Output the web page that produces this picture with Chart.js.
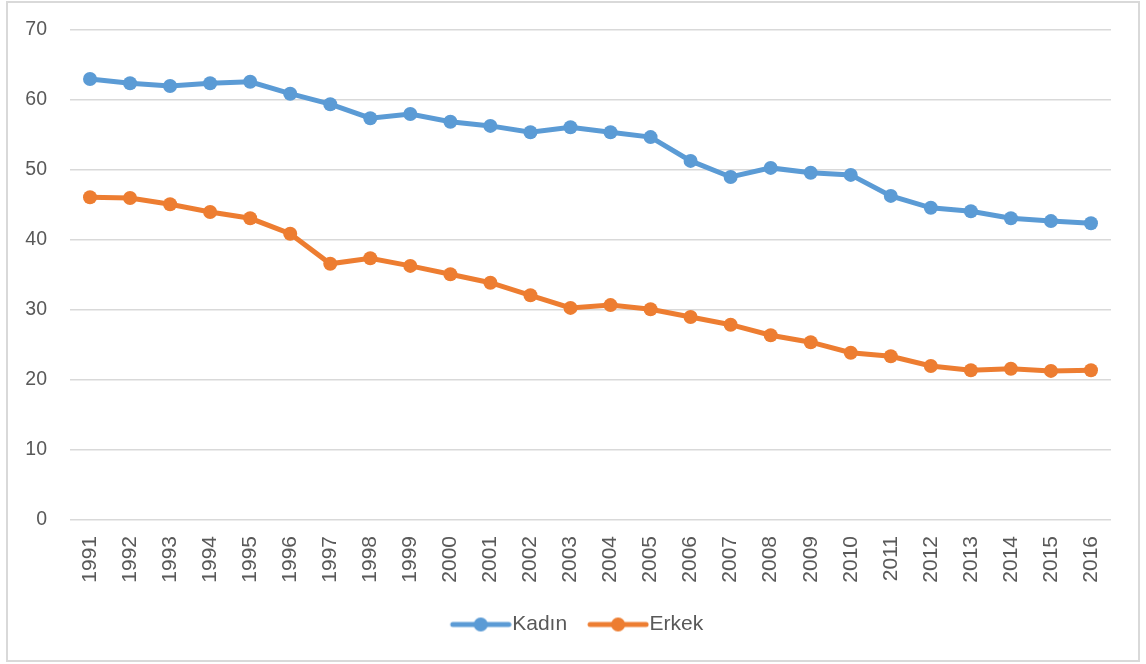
<!DOCTYPE html>
<html>
<head>
<meta charset="utf-8">
<script src="https://cdn.jsdelivr.net/npm/chart.js@4.4.1/dist/chart.umd.min.js"></script>
<style>
  html, body { margin: 0; padding: 0; background: #fff; }
  #box {
    position: absolute; left: 6px; top: 1px;
    width: 1130px; height: 657px;
    border: 2px solid #d9d9d9;
  }
</style>
</head>
<body>
<div id="box"><canvas id="chart" width="1130" height="657"></canvas></div>
<script>
const years = ["1991","1992","1993","1994","1995","1996","1997","1998","1999","2000",
  "2001","2002","2003","2004","2005","2006","2007","2008","2009","2010",
  "2011","2012","2013","2014","2015","2016"];
const kadin = [63.0, 62.4, 62.0, 62.4, 62.6, 60.9, 59.4, 57.4, 58.0, 56.9,
  56.3, 55.4, 56.1, 55.4, 54.7, 51.3, 49.0, 50.3, 49.6, 49.3,
  46.3, 44.6, 44.1, 43.1, 42.7, 42.4];
const erkek = [46.1, 46.0, 45.1, 44.0, 43.1, 40.9, 36.6, 37.4, 36.3, 35.1,
  33.9, 32.1, 30.3, 30.7, 30.1, 29.0, 27.9, 26.4, 25.4, 23.9,
  23.4, 22.0, 21.4, 21.6, 21.3, 21.4];
const yTicks = [0, 10, 20, 30, 40, 50, 60, 70];

const blue = "#5b9bd5";
const orange = "#ed7d31";
const font = "'Liberation Sans', Arial, sans-serif";

// small line+marker picture for the legend (line sits on the right so the text is close)
function legendIcon(color) {
  const c = document.createElement("canvas");
  c.width = 72; c.height = 16;
  const g = c.getContext("2d");
  g.strokeStyle = color; g.lineWidth = 5; g.lineCap = "round";
  g.beginPath(); g.moveTo(13, 8); g.lineTo(69, 8); g.stroke();
  g.fillStyle = color;
  g.beginPath(); g.arc(41, 8, 7, 0, Math.PI * 2); g.fill();
  return c;
}

// legend in the original is centred on the whole frame, not on the space right of the y axis
const shiftLegend = {
  id: "shiftLegend",
  afterLayout(chart) {
    chart.legend.left += 17;
    chart.legend.right += 17;
  },
};

new Chart(document.getElementById("chart"), {
  type: "line",
  data: {
    labels: years,
    datasets: [
      { label: "Kadın", data: kadin, borderColor: blue, backgroundColor: blue },
      { label: "Erkek", data: erkek, borderColor: orange, backgroundColor: orange },
    ],
  },
  options: {
    responsive: false,
    animation: false,
    layout: { padding: { top: 27, right: 27, bottom: 15, left: 0 } },
    elements: {
      line: { borderWidth: 5, tension: 0 },
      point: { radius: 7, borderWidth: 0, hoverRadius: 7, pointStyle: "circle" },
    },
    scales: {
      x: {
        offset: true,
        grid: { display: false },
        border: { display: false },
        ticks: {
          color: "#595959", font: { family: font, size: 21 },
          minRotation: 90, maxRotation: 90, padding: 8, autoSkip: false,
        },
        afterFit: (s) => { s.height = 74; },
      },
      y: {
        min: 0, max: 70,
        afterBuildTicks: (s) => { s.ticks = yTicks.map((v) => ({ value: v })); },
        grid: { color: "#d9d9d9", lineWidth: 1.5, drawTicks: true, tickLength: 20, tickColor: "rgba(0,0,0,0)" },
        border: { display: false },
        ticks: { color: "#595959", font: { family: font, size: 19.5 }, padding: 3 },
        afterFit: (s) => { s.width = 62; },
      },
    },
    plugins: {
      tooltip: { enabled: false },
      legend: {
        position: "bottom",
        labels: {
          usePointStyle: true, pointStyleWidth: 52, padding: 20,
          color: "#595959", font: { family: font, size: 21 },
          generateLabels: (chart) => chart.data.datasets.map((d, i) => ({
            text: d.label, pointStyle: legendIcon(d.borderColor),
            fillStyle: d.borderColor, strokeStyle: d.borderColor,
            fontColor: "#595959", lineWidth: 0, datasetIndex: i,
          })),
        },
      },
    },
  },
  plugins: [shiftLegend],
});
</script>
</body>
</html>
